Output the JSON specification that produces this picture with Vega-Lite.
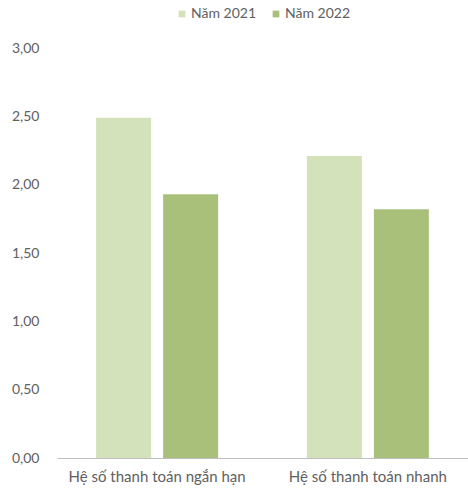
{
  "$schema": "https://vega.github.io/schema/vega-lite/v6.json",
  "width": 468,
  "height": 491,
  "autosize": {"type": "fit", "contains": "padding"},
  "padding": {"left": 11, "top": 7, "right": 0, "bottom": 7},
  "background": "white",
  "config": {
    "font": "Lato",
    "view": {"stroke": null},
    "legend": {"layout": {"top": {"anchor": "middle"}}},
    "locale": {"number": {"decimal": ",", "thousands": ".", "grouping": [3], "currency": ["", ""]}}
  },
  "data": {
    "values": [
      {"chi_so": "Hệ số thanh toán ngắn hạn", "nam": "Năm 2021", "gia_tri": 2.49},
      {"chi_so": "Hệ số thanh toán ngắn hạn", "nam": "Năm 2022", "gia_tri": 1.93},
      {"chi_so": "Hệ số thanh toán nhanh", "nam": "Năm 2021", "gia_tri": 2.21},
      {"chi_so": "Hệ số thanh toán nhanh", "nam": "Năm 2022", "gia_tri": 1.82}
    ]
  },
  "mark": {"type": "bar"},
  "encoding": {
    "x": {
      "field": "chi_so",
      "type": "nominal",
      "sort": null,
      "title": null,
      "scale": {"paddingInner": 0.05, "paddingOuter": 0},
      "axis": {"labelAngle": 0, "labelFontSize": 15, "labelColor": "#606060", "domainColor": "#bfbfbf", "ticks": false, "labelPadding": 11}
    },
    "xOffset": {
      "field": "nam",
      "type": "nominal",
      "scale": {"paddingInner": 0.179, "paddingOuter": 0.584}
    },
    "y": {
      "field": "gia_tri",
      "type": "quantitative",
      "title": null,
      "scale": {"domain": [0, 3]},
      "axis": {"values": [0, 0.5, 1, 1.5, 2, 2.5, 3], "format": ",.2f", "grid": false, "domain": false, "ticks": false, "labelFontSize": 14, "labelColor": "#606060", "labelPadding": 18}
    },
    "color": {
      "field": "nam",
      "type": "nominal",
      "title": null,
      "scale": {"domain": ["Năm 2021", "Năm 2022"], "range": ["#d3e2bb", "#a8c07a"]},
      "legend": {"orient": "top", "direction": "horizontal", "symbolType": "square", "symbolSize": 45, "labelFontSize": 14, "labelColor": "#606060", "offset": 27, "columnPadding": 12, "labelOffset": 2}
    }
  }
}
